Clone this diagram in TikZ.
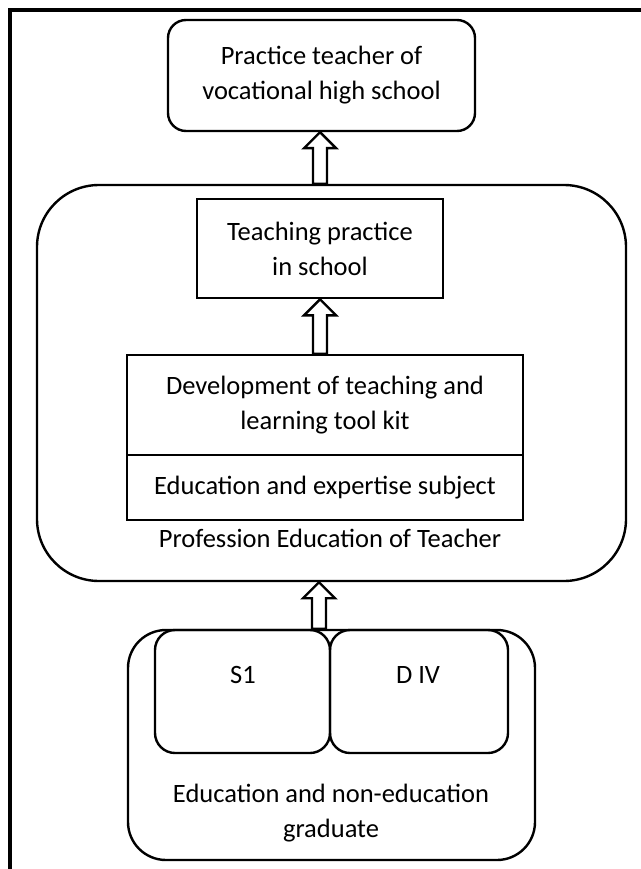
\documentclass[tikz,border=0pt]{standalone}
\usepackage{fontspec}
\setmainfont{Carlito}
\usetikzlibrary{calc}

\tikzset{
  txt/.style={font=\fontsize{26.5}{35}\selectfont, align=center},
  plainbox/.style={draw, line width=2.6pt, inner sep=0pt, txt},
  roundbox/.style={draw, line width=2.4pt, rounded corners=#1, inner sep=0pt, txt},
  hollow/.style={draw, fill=white, line width=2.4pt, line join=miter},
  frameline/.style={line width=3.5pt},
}

% hollow block arrow pointing up from #1 to #2
\newcommand\blockarrow[2]{%
  \draw[hollow] let \p1=#1, \p2=#2 in
    (\x1-7pt,\y1) -- (\x1-7pt,\y2-16pt) -- (\x1-16pt,\y2-16pt) -- (\x1,\y2)
    -- (\x1+16pt,\y2-16pt) -- (\x1+7pt,\y2-16pt) -- (\x1+7pt,\y1) -- cycle;}

\begin{document}
\begin{tikzpicture}[x=1pt, y=-1pt]
  \useasboundingbox (0,0) rectangle (640,869);

  % page frame
  \draw[frameline] (10,880) -- (10,10) -- (650,10);

  % goal
  \node[roundbox=18pt, minimum width=307pt, minimum height=111pt] (goal) at (321.5,75.5)
    {Practice teacher of\\vocational high school};

  % professional education block
  \node[roundbox=62pt, minimum width=589pt, minimum height=396pt] (ppg) at (331.5,383) {};
  \node[plainbox, minimum width=246pt, minimum height=99pt] (practice) at (320,248.5)
    {Teaching practice\\in school};
  \node[plainbox, minimum width=396pt, minimum height=100pt] (toolkit) at (325,405)
    {Development of teaching and\\learning tool kit};
  \node[plainbox, minimum width=396pt, minimum height=65pt] (subject) at (325,487.5)
    {Education and expertise subject};
  \node[txt, anchor=base] (ppglabel) at (330,547) {Profession Education of Teacher};

  % graduates
  \node[roundbox=38pt, minimum width=407pt, minimum height=230pt] (grad) at (331.5,745) {};
  \node[roundbox=20pt, minimum width=175pt, minimum height=123pt] (s1) at (242.5,691.5) {};
  \node[roundbox=20pt, minimum width=178pt, minimum height=123pt] (d4) at (419,691.5) {};
  \node[txt, anchor=base] (s1label) at (243,683) {S1};
  \node[txt, anchor=base] (d4label) at (418,683) {D IV};
  \node[txt] (gradlabel) at (331,813) {Education and non-education\\graduate};

  % arrows
  \coordinate (axis) at (320,0);
  \coordinate (axisb) at (319,0);
  \blockarrow{(axis |- ppg.north)}{(axis |- goal.south)}
  \blockarrow{(axis |- toolkit.north)}{(axis |- practice.south)}
  \blockarrow{(axisb |- grad.north)}{(axisb |- ppg.south)}
\end{tikzpicture}
\end{document}
